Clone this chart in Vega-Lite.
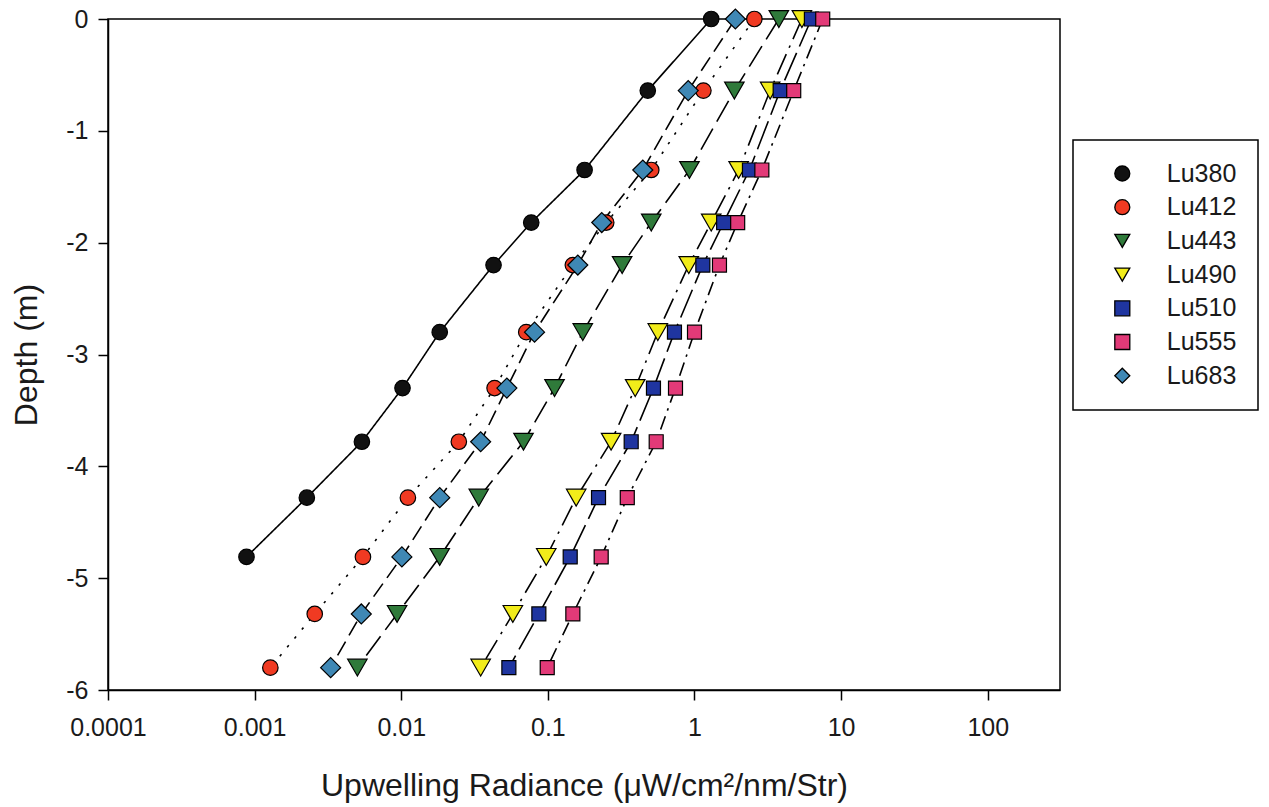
{
  "$schema": "https://vega.github.io/schema/vega-lite/v6.json",
  "width": 952,
  "height": 671,
  "autosize": {"type": "none"},
  "padding": {"left": 108, "top": 19, "right": 209, "bottom": 117},
  "background": "white",
  "config": {
    "view": {"stroke": "black", "strokeWidth": 1.5},
    "font": "Liberation Sans",
    "legend": {"strokeWidth": 1.5},
    "axis": {
      "grid": false,
      "domainColor": "black",
      "domainWidth": 1.5,
      "tickColor": "black",
      "tickWidth": 1.5,
      "tickSize": 10,
      "labelFont": "Liberation Sans",
      "labelFontSize": 25,
      "labelColor": "#1a1a1a",
      "labelFlush": false,
      "labelOverlap": false,
      "titleFont": "Liberation Sans",
      "titleFontSize": 32,
      "titleFontWeight": "normal",
      "titleColor": "#1a1a1a"
    }
  },
  "data": {
    "values": [
      {"series": "Lu380", "depth": 0, "radiance": 1.30},
      {"series": "Lu380", "depth": -0.64, "radiance": 0.480},
      {"series": "Lu380", "depth": -1.35, "radiance": 0.178},
      {"series": "Lu380", "depth": -1.82, "radiance": 0.0770},
      {"series": "Lu380", "depth": -2.2, "radiance": 0.0426},
      {"series": "Lu380", "depth": -2.8, "radiance": 0.0183},
      {"series": "Lu380", "depth": -3.3, "radiance": 0.0102},
      {"series": "Lu380", "depth": -3.78, "radiance": 0.00539},
      {"series": "Lu380", "depth": -4.28, "radiance": 0.00227},
      {"series": "Lu380", "depth": -4.81, "radiance": 0.00088},

      {"series": "Lu412", "depth": 0, "radiance": 2.56},
      {"series": "Lu412", "depth": -0.64, "radiance": 1.15},
      {"series": "Lu412", "depth": -1.35, "radiance": 0.507},
      {"series": "Lu412", "depth": -1.82, "radiance": 0.250},
      {"series": "Lu412", "depth": -2.2, "radiance": 0.148},
      {"series": "Lu412", "depth": -2.8, "radiance": 0.0712},
      {"series": "Lu412", "depth": -3.3, "radiance": 0.0433},
      {"series": "Lu412", "depth": -3.78, "radiance": 0.0247},
      {"series": "Lu412", "depth": -4.28, "radiance": 0.0111},
      {"series": "Lu412", "depth": -4.81, "radiance": 0.00548},
      {"series": "Lu412", "depth": -5.32, "radiance": 0.00257},
      {"series": "Lu412", "depth": -5.8, "radiance": 0.00128},

      {"series": "Lu443", "depth": 0, "radiance": 3.76},
      {"series": "Lu443", "depth": -0.64, "radiance": 1.87},
      {"series": "Lu443", "depth": -1.35, "radiance": 0.924},
      {"series": "Lu443", "depth": -1.82, "radiance": 0.507},
      {"series": "Lu443", "depth": -2.2, "radiance": 0.321},
      {"series": "Lu443", "depth": -2.8, "radiance": 0.173},
      {"series": "Lu443", "depth": -3.3, "radiance": 0.111},
      {"series": "Lu443", "depth": -3.78, "radiance": 0.0682},
      {"series": "Lu443", "depth": -4.28, "radiance": 0.0338},
      {"series": "Lu443", "depth": -4.81, "radiance": 0.0183},
      {"series": "Lu443", "depth": -5.32, "radiance": 0.00937},
      {"series": "Lu443", "depth": -5.8, "radiance": 0.00502},

      {"series": "Lu490", "depth": 0, "radiance": 5.40},
      {"series": "Lu490", "depth": -0.64, "radiance": 3.28},
      {"series": "Lu490", "depth": -1.35, "radiance": 2.00},
      {"series": "Lu490", "depth": -1.82, "radiance": 1.30},
      {"series": "Lu490", "depth": -2.2, "radiance": 0.914},
      {"series": "Lu490", "depth": -2.8, "radiance": 0.562},
      {"series": "Lu490", "depth": -3.3, "radiance": 0.394},
      {"series": "Lu490", "depth": -3.78, "radiance": 0.270},
      {"series": "Lu490", "depth": -4.28, "radiance": 0.156},
      {"series": "Lu490", "depth": -4.81, "radiance": 0.0975},
      {"series": "Lu490", "depth": -5.32, "radiance": 0.0577},
      {"series": "Lu490", "depth": -5.8, "radiance": 0.0348},

      {"series": "Lu510", "depth": 0, "radiance": 6.27},
      {"series": "Lu510", "depth": -0.64, "radiance": 3.84},
      {"series": "Lu510", "depth": -1.35, "radiance": 2.37},
      {"series": "Lu510", "depth": -1.82, "radiance": 1.58},
      {"series": "Lu510", "depth": -2.2, "radiance": 1.14},
      {"series": "Lu510", "depth": -2.8, "radiance": 0.730},
      {"series": "Lu510", "depth": -3.3, "radiance": 0.525},
      {"series": "Lu510", "depth": -3.78, "radiance": 0.370},
      {"series": "Lu510", "depth": -4.28, "radiance": 0.2215},
      {"series": "Lu510", "depth": -4.81, "radiance": 0.142},
      {"series": "Lu510", "depth": -5.32, "radiance": 0.0868},
      {"series": "Lu510", "depth": -5.8, "radiance": 0.0542},

      {"series": "Lu555", "depth": 0, "radiance": 7.49},
      {"series": "Lu555", "depth": -0.64, "radiance": 4.75},
      {"series": "Lu555", "depth": -1.35, "radiance": 2.88},
      {"series": "Lu555", "depth": -1.82, "radiance": 1.97},
      {"series": "Lu555", "depth": -2.2, "radiance": 1.48},
      {"series": "Lu555", "depth": -2.8, "radiance": 1.00},
      {"series": "Lu555", "depth": -3.3, "radiance": 0.742},
      {"series": "Lu555", "depth": -3.78, "radiance": 0.548},
      {"series": "Lu555", "depth": -4.28, "radiance": 0.348},
      {"series": "Lu555", "depth": -4.81, "radiance": 0.231},
      {"series": "Lu555", "depth": -5.32, "radiance": 0.148},
      {"series": "Lu555", "depth": -5.8, "radiance": 0.099},

      {"series": "Lu683", "depth": 0, "radiance": 1.90},
      {"series": "Lu683", "depth": -0.64, "radiance": 0.906},
      {"series": "Lu683", "depth": -1.35, "radiance": 0.444},
      {"series": "Lu683", "depth": -1.82, "radiance": 0.233},
      {"series": "Lu683", "depth": -2.2, "radiance": 0.160},
      {"series": "Lu683", "depth": -2.8, "radiance": 0.0811},
      {"series": "Lu683", "depth": -3.3, "radiance": 0.0525},
      {"series": "Lu683", "depth": -3.78, "radiance": 0.0348},
      {"series": "Lu683", "depth": -4.28, "radiance": 0.0183},
      {"series": "Lu683", "depth": -4.81, "radiance": 0.0101},
      {"series": "Lu683", "depth": -5.32, "radiance": 0.00534},
      {"series": "Lu683", "depth": -5.8, "radiance": 0.0033}
    ]
  },
  "encoding": {
    "x": {
      "field": "radiance",
      "type": "quantitative",
      "scale": {"type": "log", "domain": [0.0001, 311], "nice": false},
      "axis": {
        "values": [0.0001, 0.001, 0.01, 0.1, 1, 10, 100],
        "labelExpr": "datum.value + ''",
        "labelPadding": 15,
        "titlePadding": 30,
        "title": "Upwelling Radiance (μW/cm²/nm/Str)"
      }
    },
    "y": {
      "field": "depth",
      "type": "quantitative",
      "scale": {"domain": [-6, 0], "nice": false, "zero": false},
      "axis": {
        "values": [0, -1, -2, -3, -4, -5, -6],
        "labelExpr": "datum.value + ''",
        "labelPadding": 10,
        "titlePadding": 22,
        "title": "Depth (m)"
      }
    }
  },
  "layer": [
    {
      "mark": {"type": "line", "stroke": "black", "strokeWidth": 1.6, "strokeCap": "butt"},
      "encoding": {
        "detail": {"field": "series", "type": "nominal"},
        "order": {"field": "depth", "type": "quantitative", "sort": "descending"},
        "strokeDash": {
          "field": "series",
          "type": "nominal",
          "scale": {
            "range": [[1, 0], [2.5, 9], [24, 8], [22, 7, 2.5, 7], [30, 7], [14, 6, 2.5, 6], [16, 7]]
          },
          "legend": null
        }
      }
    },
    {
      "transform": [{"filter": {"field": "series", "oneOf": ["Lu380", "Lu412"]}}],
      "mark": {"type": "point", "filled": true, "opacity": 1, "stroke": "black", "strokeWidth": 1.2, "size": 240},
      "encoding": {
        "fill": {
          "field": "series",
          "type": "nominal",
          "scale": {
            "domain": ["Lu380", "Lu412", "Lu443", "Lu490", "Lu510", "Lu555", "Lu683"],
            "range": ["#111111", "#f03a22", "#2f7a3a", "#f2ec1a", "#1f35a0", "#e23a78", "#3f88b5"]
          },
          "legend": {
            "title": null,
            "orient": "none",
            "legendX": 965,
            "legendY": 121,
            "padding": 21,
            "strokeColor": "black",
            "symbolSize": 225,
            "symbolOpacity": 1,
            "symbolStrokeColor": "black",
            "symbolStrokeWidth": 1.3,
            "symbolOffset": 15.8,
            "labelOffset": 32,
            "labelFont": "Liberation Sans",
            "labelFontSize": 25,
            "labelColor": "#1a1a1a",
            "rowPadding": 7.7
          }
        },
        "shape": {
          "field": "series",
          "type": "nominal",
          "scale": {
            "domain": ["Lu380", "Lu412", "Lu443", "Lu490", "Lu510", "Lu555", "Lu683"],
            "range": ["circle", "circle", "triangle-down", "triangle-down", "square", "square", "diamond"]
          }
        }
      }
    },
    {
      "transform": [{"filter": {"field": "series", "oneOf": ["Lu443", "Lu490"]}}],
      "mark": {"type": "point", "filled": true, "opacity": 1, "stroke": "black", "strokeWidth": 1.2, "size": 380},
      "encoding": {
        "fill": {
          "field": "series",
          "type": "nominal",
          "scale": {"domain": ["Lu380", "Lu412", "Lu443", "Lu490", "Lu510", "Lu555", "Lu683"]}
        },
        "shape": {
          "field": "series",
          "type": "nominal",
          "scale": {"domain": ["Lu380", "Lu412", "Lu443", "Lu490", "Lu510", "Lu555", "Lu683"]}
        }
      }
    },
    {
      "transform": [{"filter": {"field": "series", "oneOf": ["Lu510", "Lu555"]}}],
      "mark": {"type": "point", "filled": true, "opacity": 1, "stroke": "black", "strokeWidth": 1.2, "size": 196},
      "encoding": {
        "fill": {
          "field": "series",
          "type": "nominal",
          "scale": {"domain": ["Lu380", "Lu412", "Lu443", "Lu490", "Lu510", "Lu555", "Lu683"]}
        },
        "shape": {
          "field": "series",
          "type": "nominal",
          "scale": {"domain": ["Lu380", "Lu412", "Lu443", "Lu490", "Lu510", "Lu555", "Lu683"]}
        }
      }
    },
    {
      "transform": [{"filter": {"field": "series", "equal": "Lu683"}}],
      "mark": {"type": "point", "filled": true, "opacity": 1, "stroke": "black", "strokeWidth": 1.2, "size": 400},
      "encoding": {
        "fill": {
          "field": "series",
          "type": "nominal",
          "scale": {"domain": ["Lu380", "Lu412", "Lu443", "Lu490", "Lu510", "Lu555", "Lu683"]}
        },
        "shape": {
          "field": "series",
          "type": "nominal",
          "scale": {"domain": ["Lu380", "Lu412", "Lu443", "Lu490", "Lu510", "Lu555", "Lu683"]}
        }
      }
    }
  ]
}
